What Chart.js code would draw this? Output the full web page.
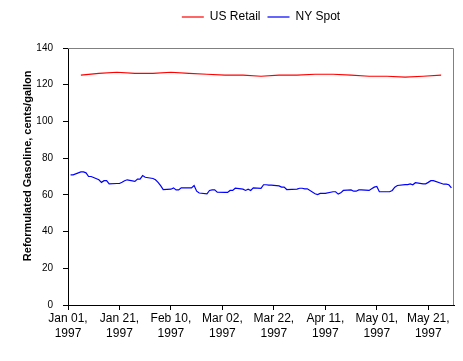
<!DOCTYPE html>
<html lang="en">
<head>
<meta charset="UTF-8">
<title>Reformulated Gasoline Prices</title>
<script src="https://cdn.jsdelivr.net/npm/chart.js"></script>
<style>
  html, body { margin: 0; padding: 0; background: #fff; }
  #wrap { width: 463px; height: 361px; position: relative; }
</style>
</head>
<body>
<div id="wrap"><canvas id="chart"></canvas></div>
<script>
  // x values are days counted from Jan 01, 1997
  const retailDays = [5, 12, 19, 26, 33, 40, 47, 54, 61, 68, 75, 82, 89, 96, 103, 110, 117, 124, 131, 138, 145];
  const retailValues = [125.2, 126.2, 126.8, 126.2, 126.2, 126.8, 126.2, 125.7, 125.2, 125.2, 124.6,
                        125.2, 125.2, 125.7, 125.7, 125.2, 124.6, 124.6, 124.1, 124.6, 125.2];

  const spotDays = [1, 2, 5, 6, 7, 8, 9, 12, 13, 14, 15, 16, 19, 20, 21, 22, 23, 26, 27, 28, 29, 30,
                    33, 34, 35, 36, 37, 40, 41, 42, 43, 44, 48, 49, 50, 51, 54, 55, 56, 57, 58,
                    61, 62, 63, 64, 65, 68, 69, 70, 71, 72, 75, 76, 77, 78, 79, 82, 83, 84, 85,
                    89, 90, 91, 92, 93, 96, 97, 98, 99, 100, 103, 104, 105, 106, 107, 110, 111, 112, 113, 114,
                    117, 118, 119, 120, 121, 124, 125, 126, 127, 128, 131, 132, 133, 134, 135,
                    138, 139, 140, 141, 142, 146, 147, 148, 149];
  const spotValues = [70.9, 70.9, 72.5, 72.5, 72.0, 70.0, 70.0, 68.2, 66.8, 67.7, 67.7, 66.0, 66.2, 66.2, 66.9, 67.7, 68.2,
                      67.3, 68.6, 68.6, 70.5, 69.6, 68.9, 68.2, 66.8, 65.0, 62.9, 63.1, 63.8, 62.7, 62.7, 63.8,
                      63.8, 65.1, 62.0, 61.0, 60.6, 62.4, 62.7, 62.7, 61.5,
                      61.3, 61.3, 62.4, 62.4, 63.6, 63.1, 62.4, 63.1, 62.4, 63.8, 63.5, 65.5, 65.5, 65.3, 65.3,
                      64.9, 64.2, 64.2, 62.9, 63.1, 63.6, 63.6, 63.3, 63.3, 60.6, 60.2, 60.8, 60.8, 60.8,
                      61.7, 61.7, 60.4, 61.1, 62.4, 62.7, 62.0, 62.0, 62.7, 62.7,
                      62.4, 63.3, 64.2, 64.6, 61.7, 61.7, 61.7, 62.4, 64.2, 65.1, 65.6, 65.6, 66.0, 65.5, 66.6,
                      66.0, 66.0, 66.8, 67.7, 67.7, 65.8, 65.8, 65.5, 63.8];

  const xTickLabels = [
    ['Jan 01,', '1997'], ['Jan 21,', '1997'], ['Feb 10,', '1997'], ['Mar 02,', '1997'],
    ['Mar 22,', '1997'], ['Apr 11,', '1997'], ['May 01,', '1997'], ['May 21,', '1997']
  ];

  Chart.defaults.font.family = '"Liberation Sans", Arial, sans-serif';
  Chart.defaults.font.size = 12;
  Chart.defaults.color = '#000';

  const toPoints = (xs, ys) => xs.map((x, i) => ({ x: x, y: ys[i] }));

  // gray frame on top / right of the plot, like the original
  const frame = {
    id: 'frame',
    beforeDatasetsDraw(chart) {
      const a = chart.chartArea, ctx = chart.ctx;
      ctx.save();
      ctx.strokeStyle = '#808080';
      ctx.lineWidth = 1;
      ctx.beginPath();
      ctx.moveTo(a.left, a.top + 0.5);
      ctx.lineTo(a.right - 0.5, a.top + 0.5);
      ctx.lineTo(a.right - 0.5, a.bottom);
      ctx.stroke();
      ctx.restore();
    }
  };

  // legend sits centred over the plot area and higher up than the default spot
  const legendShift = {
    id: 'legendShift',
    afterLayout(chart) {
      const lg = chart.legend;
      const a = chart.chartArea;
      const dx = (a.left + a.right) / 2 - (lg.left + lg.right) / 2;
      lg.left += dx;
      lg.right += dx;
      lg.top -= 15;
      lg.bottom -= 15;
    }
  };

  new Chart(document.getElementById('chart'), {
    type: 'line',
    data: {
      datasets: [
        {
          label: 'US Retail',
          data: toPoints(retailDays, retailValues),
          borderColor: '#ff0000',
          backgroundColor: '#ff0000',
          borderWidth: 1.2,
          pointRadius: 0,
          tension: 0
        },
        {
          label: 'NY Spot',
          data: toPoints(spotDays, spotValues),
          borderColor: '#0000ff',
          backgroundColor: '#0000ff',
          borderWidth: 1.2,
          pointRadius: 0,
          tension: 0
        }
      ]
    },
    options: {
      responsive: true,
      maintainAspectRatio: false,
      animation: false,
      layout: { padding: { top: 19, right: 9, left: 0, bottom: 0 } },
      plugins: {
        legend: {
          position: 'top',
          labels: {
            usePointStyle: true,
            pointStyle: 'line',
            pointStyleWidth: 22,
            padding: 7,
            font: { size: 12 }
          }
        },
        tooltip: { enabled: false }
      },
      scales: {
        x: {
          type: 'linear',
          min: 0,
          max: 150,
          afterBuildTicks: s => { s.ticks = xTickLabels.map((_, i) => ({ value: i * 20 })); },
          afterFit: s => { s.height = 56; },
          grid: { drawOnChartArea: false, tickLength: 5, color: '#000' },
          border: { color: '#000' },
          ticks: {
            maxRotation: 0,
            autoSkip: false,
            padding: 1,
            font: { size: 12, lineHeight: 1.25 },
            callback: v => xTickLabels[Math.round(v / 20)] || ''
          }
        },
        y: {
          min: 0,
          max: 140,
          afterFit: s => { s.width = 68; },
          grid: { drawOnChartArea: false, tickLength: 5, color: '#000' },
          border: { color: '#000' },
          ticks: { stepSize: 20, padding: 10, font: { size: 10 } },
          title: {
            display: true,
            // leading blanks nudge the centred title up, as in the original
            text: '       Reformulated Gasoline, cents/gallon',
            font: { size: 11, weight: 'bold' },
            padding: { top: 21, bottom: 0 }
          }
        }
      }
    },
    plugins: [frame, legendShift]
  });
</script>
</body>
</html>
